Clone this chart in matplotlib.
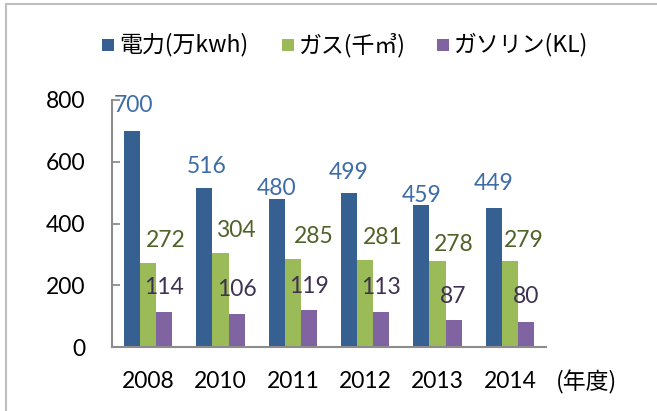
import matplotlib
matplotlib.use("Agg")
import matplotlib.pyplot as plt
import matplotlib.transforms as mtransforms
from matplotlib.patches import Rectangle
from matplotlib.lines import Line2D
import numpy as np

years = ["2008", "2010", "2011", "2012", "2013", "2014"]
electricity = [700, 516, 480, 499, 459, 449]
gas = [272, 304, 285, 281, 278, 279]
gasoline = [114, 106, 119, 113, 87, 80]
series_names = ["電力(万kwh)", "ガス(千㎥)", "ガソリン(KL)"]

bar_colors = ["#376092", "#9BBB59", "#8064A2"]
label_colors = ["#3E6CA8", "#4F6228", "#3F3151"]

# label placement tweaks (pixels): horizontal shift, baseline gap above bar
label_dx = [
    [1, 2, 0, 0, 0, 0],
    [18, 15, 21, 18, 16, 14],
    [0, 0, 0, 0, 0, 0],
]
label_gap = [
    [19, 15, 4, 13.5, 3.5, 18],
    [16, 16, 16, 16, 10, 14],
    [18, 18, 17, 18, 17, 19],
]

W, H = 657, 411
DPI = 100
fig = plt.figure(figsize=(W / DPI, H / DPI), dpi=DPI)
fig.patch.set_facecolor("white")

num_font = ["Lato", "Noto Sans CJK JP"]
jp_font = ["Noto Sans CJK JP", "DejaVu Sans"]

left, right, bottom, top = 112, 546, 347, 100
ax = fig.add_axes([left / W, 1 - bottom / H, (right - left) / W, (bottom - top) / H])

x = np.arange(len(years))
bw = 0.222
data = [electricity, gas, gasoline]
offsets = [-bw, 0, bw]
for s, (vals, off) in enumerate(zip(data, offsets)):
    ax.bar(x + off, vals, width=bw, color=bar_colors[s], edgecolor="none", zorder=2)

ax.set_xlim(-0.5, len(years) - 0.5)
ax.set_ylim(0, 800)
ax.set_yticks([0, 200, 400, 600, 800])
ax.set_yticklabels(["0", "200", "400", "600", "800"], family=num_font, fontsize=16.5)
ax.set_xticks(x)
ax.set_xticklabels(years, family=num_font, fontsize=16.5)
ax.tick_params(axis="y", direction="in", length=5.8, width=1.3, color="#8C8C8C", pad=19)
ax.tick_params(axis="x", length=0, pad=17)
for sp in ["top", "right"]:
    ax.spines[sp].set_visible(False)
for sp in ["left", "bottom"]:
    ax.spines[sp].set_color("#8C8C8C")
    ax.spines[sp].set_linewidth(1.5)

# data labels
for s, (vals, off) in enumerate(zip(data, offsets)):
    for i, v in enumerate(vals):
        tr = mtransforms.offset_copy(ax.transData, fig=fig,
                                     x=label_dx[s][i] * 0.72,
                                     y=label_gap[s][i] * 0.72, units="points")
        ax.text(x[i] + off, v, str(v), transform=tr, ha="center", va="baseline",
                color=label_colors[s], family=num_font, fontsize=16.5, zorder=3)

# unit label
fig.text(587 / W, 1 - 382 / H, "(年度)", ha="center", va="center",
         family=jp_font, fontsize=16.5)

# legend
leg_sq_x = [102, 282, 437]
leg_y = 45
sq = 12
for s in range(3):
    fig.add_artist(Rectangle((leg_sq_x[s] / W, 1 - (leg_y + sq / 2) / H), sq / W, sq / H,
                             transform=fig.transFigure, facecolor=bar_colors[s],
                             edgecolor="none"))
    fig.text((leg_sq_x[s] + sq + 5) / W, 1 - leg_y / H, series_names[s],
             ha="left", va="center", family=jp_font, fontsize=16.5)

# chart frame (partially visible)
fig.add_artist(Line2D([6 / W, 6 / W], [0, 1 - 4 / H], transform=fig.transFigure,
                      color="#BFBFBF", lw=1.5))
fig.add_artist(Line2D([6 / W, 1], [1 - 4 / H, 1 - 4 / H], transform=fig.transFigure,
                      color="#BFBFBF", lw=1.5))

fig.savefig("out.png", dpi=DPI)
